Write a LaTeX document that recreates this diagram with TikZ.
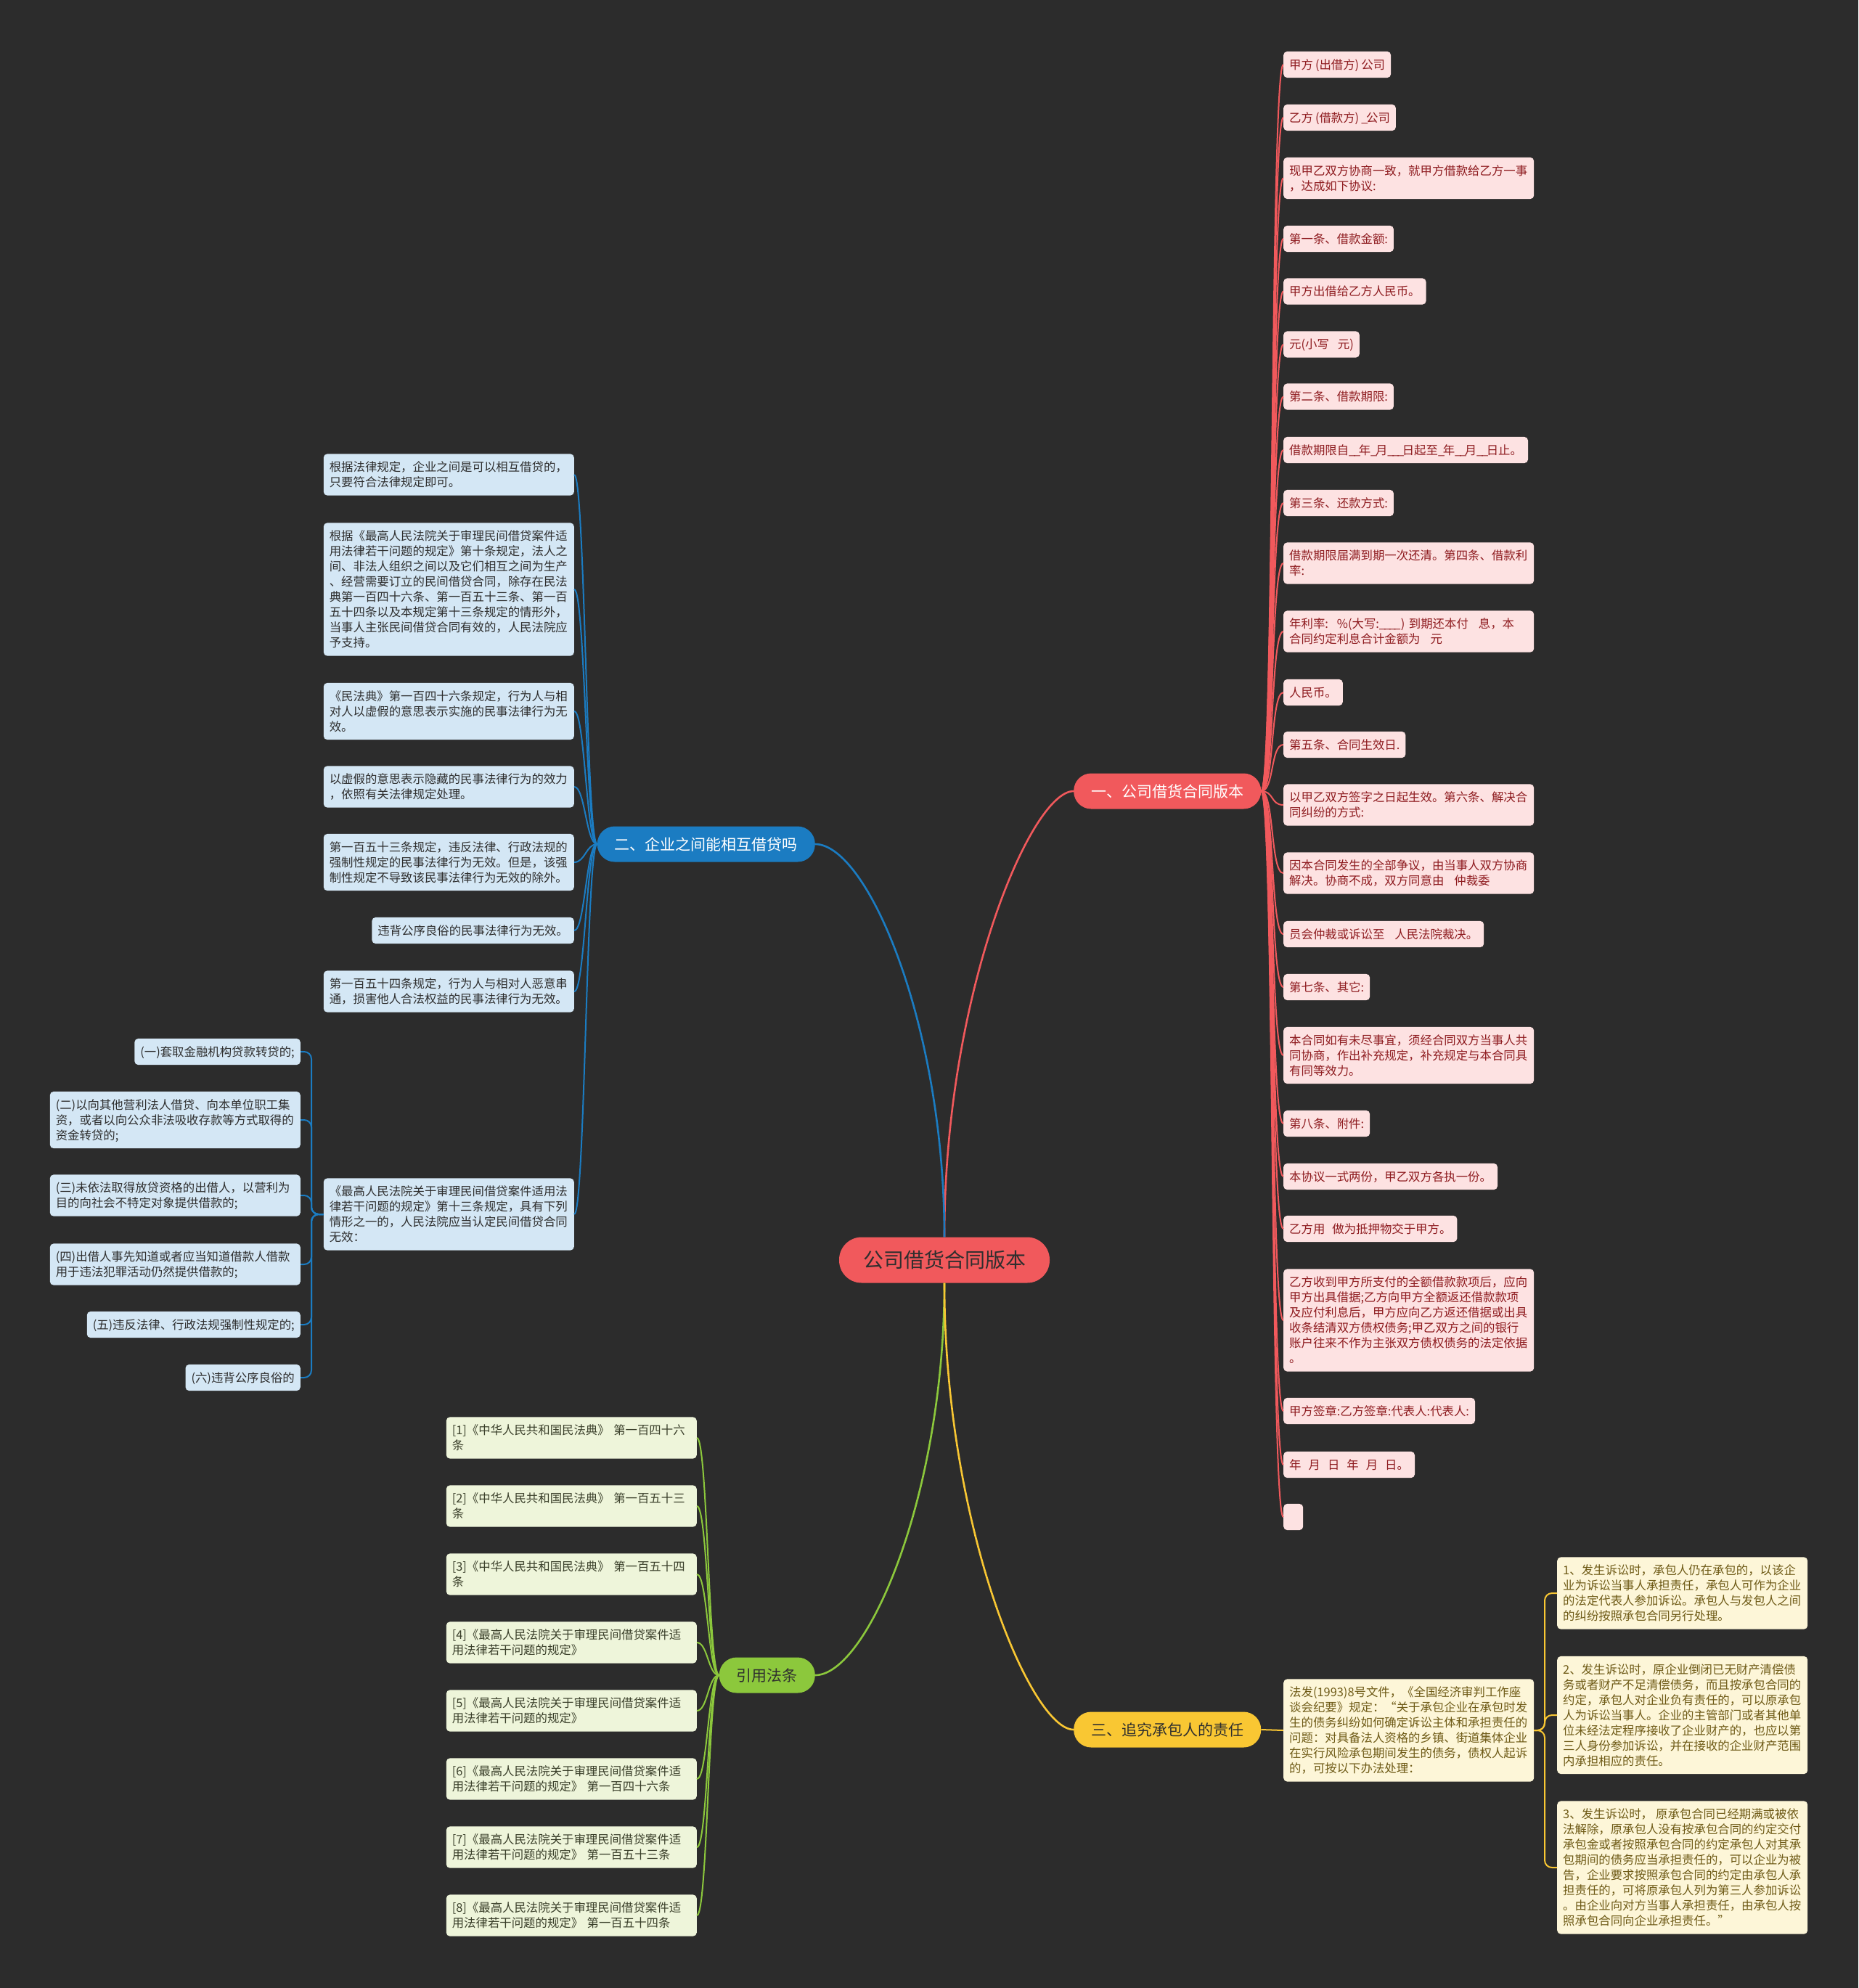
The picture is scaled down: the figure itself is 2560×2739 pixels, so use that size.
\documentclass[tikz,border=0pt]{standalone}
\usepackage{fontspec}
\setmainfont{Noto Sans CJK SC}
\setlength{\parindent}{0pt}
\definecolor{bgc}{HTML}{2C2C2C}
\definecolor{cred}{HTML}{F1595C}
\definecolor{cblue}{HTML}{1B7CC2}
\definecolor{cgreen}{HTML}{8CC83C}
\definecolor{cyellow}{HTML}{F9C733}
\definecolor{rfill}{HTML}{FDE2E2}
\definecolor{rtext}{HTML}{8E1B1F}
\definecolor{bfill}{HTML}{D4E7F5}
\definecolor{btext}{HTML}{2E2E2E}
\definecolor{gfill}{HTML}{EEF5DA}
\definecolor{gtext}{HTML}{3A3F2A}
\definecolor{yfill}{HTML}{FDF6D8}
\definecolor{ytext}{HTML}{6E5A16}
\definecolor{darktext}{HTML}{2E2E2E}
\newcommand{\lstrut}{\rule[-4.3pt]{0pt}{21pt}}
\newcommand{\leaffont}{\fontsize{16.4pt}{21pt}\selectfont}
\newcommand{\brfont}{\fontsize{21pt}{25pt}\selectfont}
\newcommand{\cfont}{\fontsize{28pt}{33pt}\selectfont}
\newcommand{\us}{\makebox[6.8pt][l]{\_}}
\begin{document}
\begin{tikzpicture}[x=1pt,y=-1pt,
  leaf/.style={rounded corners=5pt, inner xsep=8pt, inner ysep=7.6pt, align=left, font=\leaffont, execute at begin node=\lstrut, execute at end node=\lstrut},
  wide/.style={text width=329pt},
  rleaf/.style={leaf, fill=rfill, text=rtext, anchor=west},
  bleaf/.style={leaf, fill=bfill, text=btext, anchor=east},
  gleaf/.style={leaf, fill=gfill, text=gtext, anchor=east},
  yleaf/.style={leaf, fill=yfill, text=ytext, anchor=west},
  branch/.style={rounded corners=24pt, minimum height=49pt, inner xsep=24pt, inner ysep=0pt, font=\brfont, text height=18.5pt, text depth=2.5pt},
  root/.style={rounded corners=31pt, minimum height=63pt, inner xsep=33pt, inner ysep=0pt, font=\cfont, text height=24.6pt, text depth=3.4pt, fill=cred, text=darktext},
  mainline/.style={line width=2.6pt},
  subline/.style={line width=2pt},
  elbow/.style={line width=2pt, rounded corners=10pt}
]
\fill[bgc] (0,0) rectangle (2560,2739);
\useasboundingbox (0,0) rectangle (2560,2739);

% root and branches
\node[root] (c) at (1301,1736) {公司借货合同版本};
\node[branch, fill=cred, text=white, anchor=west] (r) at (1479,1090) {一、公司借货合同版本};
\node[branch, fill=cblue, text=white, anchor=east] (b) at (1123,1163) {二、企业之间能相互借贷吗};
\node[branch, fill=cgreen, text=darktext, anchor=east] (g) at (1123,2308) {引用法条};
\node[branch, fill=cyellow, text=darktext, anchor=west] (y) at (1479,2383) {三、追究承包人的责任};

% red leaves
\node[rleaf] (r1) at (1768,89) {甲方\hspace{3pt}(出借方)\hspace{3pt}公司};
\node[rleaf] (r2) at (1768,162) {乙方\hspace{3pt}(借款方)\hspace{3pt}\us 公司};
\node[rleaf, wide] (r3) at (1768,245.5) {现甲乙双方协商一致，就甲方借款给乙方一事\\，达成如下协议:};
\node[rleaf] (r4) at (1768,329) {第一条、借款金额:};
\node[rleaf] (r5) at (1768,401.5) {甲方出借给乙方人民币。};
\node[rleaf] (r6) at (1768,474.5) {元(小写\hspace{12pt}元)};
\node[rleaf] (r7) at (1768,546.5) {第二条、借款期限:};
\node[rleaf] (r8) at (1768,620) {借款期限自\us\us 年\us 月\us\us\us 日起至\us 年\us\us 月\us\us 日止。};
\node[rleaf] (r9) at (1768,693) {第三条、还款方式:};
\node[rleaf, wide] (r10) at (1768,776) {借款期限届满到期一次还清。第四条、借款利\\率:};
\node[rleaf, wide] (r11) at (1768,870) {年利率:\hspace{12pt}\%(大写:\us\us\us\us\,)~到期还本付\hspace{14pt}息，本\\合同约定利息合计金额为\hspace{14pt}元};
\node[rleaf] (r12) at (1768,954) {人民币。};
\node[rleaf] (r13) at (1768,1026) {第五条、合同生效日.};
\node[rleaf, wide] (r14) at (1768,1109) {以甲乙双方签字之日起生效。第六条、解决合\\同纠纷的方式:};
\node[rleaf, wide] (r15) at (1768,1203) {因本合同发生的全部争议，由当事人双方协商\\解决。协商不成，双方同意由\hspace{14pt}仲裁委};
\node[rleaf] (r16) at (1768,1287) {员会仲裁或诉讼至\hspace{14pt}人民法院裁决。};
\node[rleaf] (r17) at (1768,1360) {第七条、其它:};
\node[rleaf, wide] (r18) at (1768,1454) {本合同如有未尽事宜，须经合同双方当事人共\\同协商，作出补充规定，补充规定与本合同具\\有同等效力。};
\node[rleaf] (r19) at (1768,1548) {第八条、附件:};
\node[rleaf] (r20) at (1768,1621) {本协议一式两份，甲乙双方各执一份。};
\node[rleaf] (r21) at (1768,1693) {乙方用\hspace{10pt}做为抵押物交于甲方。};
\node[rleaf, wide] (r22) at (1768,1819) {乙方收到甲方所支付的全额借款款项后，应向\\甲方出具借据;乙方向甲方全额返还借款款项\\及应付利息后，甲方应向乙方返还借据或出具\\收条结清双方债权债务;甲乙双方之间的银行\\账户往来不作为主张双方债权债务的法定依据\\。};
\node[rleaf] (r23) at (1768,1944) {甲方签章:乙方签章:代表人:代表人:};
\node[rleaf] (r24) at (1768,2018) {年\hspace{10pt}月\hspace{10pt}日\hspace{10pt}年\hspace{10pt}月\hspace{10pt}日。};
\node[rleaf, minimum width=27pt] (r25) at (1768,2090) {};

% blue leaves
\node[bleaf, wide] (b1) at (791,654) {根据法律规定，企业之间是可以相互借贷的，\\只要符合法律规定即可。};
\node[bleaf, wide] (b2) at (791,812) {根据《最高人民法院关于审理民间借贷案件适\\用法律若干问题的规定》第十条规定，法人之\\间、非法人组织之间以及它们相互之间为生产\\、经营需要订立的民间借贷合同，除存在民法\\典第一百四十六条、第一百五十三条、第一百\\五十四条以及本规定第十三条规定的情形外，\\当事人主张民间借贷合同有效的，人民法院应\\予支持。};
\node[bleaf, wide] (b3) at (791,980) {《民法典》第一百四十六条规定，行为人与相\\对人以虚假的意思表示实施的民事法律行为无\\效。};
\node[bleaf, wide] (b4) at (791,1084) {以虚假的意思表示隐藏的民事法律行为的效力\\，依照有关法律规定处理。};
\node[bleaf, wide] (b5) at (791,1188) {第一百五十三条规定，违反法律、行政法规的\\强制性规定的民事法律行为无效。但是，该强\\制性规定不导致该民事法律行为无效的除外。};
\node[bleaf] (b6) at (791,1282) {违背公序良俗的民事法律行为无效。};
\node[bleaf, wide] (b7) at (791,1366) {第一百五十四条规定，行为人与相对人恶意串\\通，损害他人合法权益的民事法律行为无效。};
\node[bleaf, wide] (b8) at (791,1673) {《最高人民法院关于审理民间借贷案件适用法\\律若干问题的规定》第十三条规定，具有下列\\情形之一的，人民法院应当认定民间借贷合同\\无效：};

% blue sub leaves
\node[bleaf] (s1) at (414,1449) {(一)套取金融机构贷款转贷的;};
\node[bleaf, wide] (s2) at (414,1543) {(二)以向其他营利法人借贷、向本单位职工集\\资，或者以向公众非法吸收存款等方式取得的\\资金转贷的;};
\node[bleaf, wide] (s3) at (414,1647) {(三)未依法取得放贷资格的出借人，以营利为\\目的向社会不特定对象提供借款的;};
\node[bleaf, wide] (s4) at (414,1742) {(四)出借人事先知道或者应当知道借款人借款\\用于违法犯罪活动仍然提供借款的;};
\node[bleaf] (s5) at (414,1825) {(五)违反法律、行政法规强制性规定的;};
\node[bleaf] (s6) at (414,1898) {(六)违背公序良俗的};

% green leaves
\node[gleaf, wide] (g1) at (960,1981) {[1]《中华人民共和国民法典》~第一百四十六\\条};
\node[gleaf, wide] (g2) at (960,2075) {[2]《中华人民共和国民法典》~第一百五十三\\条};
\node[gleaf, wide] (g3) at (960,2169) {[3]《中华人民共和国民法典》~第一百五十四\\条};
\node[gleaf, wide] (g4) at (960,2263) {[4]《最高人民法院关于审理民间借贷案件适\\用法律若干问题的规定》};
\node[gleaf, wide] (g5) at (960,2357) {[5]《最高人民法院关于审理民间借贷案件适\\用法律若干问题的规定》};
\node[gleaf, wide] (g6) at (960,2451) {[6]《最高人民法院关于审理民间借贷案件适\\用法律若干问题的规定》~第一百四十六条};
\node[gleaf, wide] (g7) at (960,2545) {[7]《最高人民法院关于审理民间借贷案件适\\用法律若干问题的规定》~第一百五十三条};
\node[gleaf, wide] (g8) at (960,2639) {[8]《最高人民法院关于审理民间借贷案件适\\用法律若干问题的规定》~第一百五十四条};

% yellow leaves
\node[yleaf, wide] (y0) at (1768,2384) {法发(1993)8号文件，《全国经济审判工作座\\谈会纪要》规定：“关于承包企业在承包时发\\生的债务纠纷如何确定诉讼主体和承担责任的\\问题：对具备法人资格的乡镇、街道集体企业\\在实行风险承包期间发生的债务，债权人起诉\\的，可按以下办法处理：};
\node[yleaf, wide] (y1) at (2145,2195) {1、发生诉讼时，承包人仍在承包的，以该企\\业为诉讼当事人承担责任，承包人可作为企业\\的法定代表人参加诉讼。承包人与发包人之间\\的纠纷按照承包合同另行处理。};
\node[yleaf, wide] (y2) at (2145,2363) {2、发生诉讼时，原企业倒闭已无财产清偿债\\务或者财产不足清偿债务，而且按承包合同的\\约定，承包人对企业负有责任的，可以原承包\\人为诉讼当事人。企业的主管部门或者其他单\\位未经法定程序接收了企业财产的，也应以第\\三人身份参加诉讼，并在接收的企业财产范围\\内承担相应的责任。};
\node[yleaf, wide] (y3) at (2145,2573) {3、发生诉讼时，\hspace{4pt}原承包合同已经期满或被依\\法解除，原承包人没有按承包合同的约定交付\\承包金或者按照承包合同的约定承包人对其承\\包期间的债务应当承担责任的，可以企业为被\\告，企业要求按照承包合同的约定由承包人承\\担责任的，可将原承包人列为第三人参加诉讼\\。由企业向对方当事人承担责任，由承包人按\\照承包合同向企业承担责任。”};

% main connectors
\draw[cred, mainline] (c.north) .. controls (1301,1371) and (1420,1090) .. (r.west);
\draw[cblue, mainline] (c.north) .. controls (1301,1412) and (1195,1163) .. (b.east);
\draw[cgreen, mainline] (c.south) .. controls (1301,2059) and (1195,2308) .. (g.east);
\draw[cyellow, mainline] (c.south) .. controls (1301,2100) and (1420,2383) .. (y.west);

% leaf connectors
\foreach \i in {1,...,25}
  \draw[cred, subline] (r.east) .. controls +(18,0) and +(-18,0) .. (r\i.west);
\foreach \i in {1,...,8}
  \draw[cblue, subline] (b.west) .. controls +(-15,0) and +(15,0) .. (b\i.east);
\foreach \i in {1,...,6}
  \draw[cblue, elbow] (b8.west) -| ([xshift=15pt]s\i.east) -- (s\i.east);
\foreach \i in {1,...,8}
  \draw[cgreen, subline] (g.west) .. controls +(-15,0) and +(15,0) .. (g\i.east);
\draw[cyellow, subline] (y.east) -- (y0.west);
\foreach \i in {1,2,3}
  \draw[cyellow, elbow] (y0.east) -| ([xshift=-17pt]y\i.west) -- (y\i.west);
\end{tikzpicture}
\end{document}
